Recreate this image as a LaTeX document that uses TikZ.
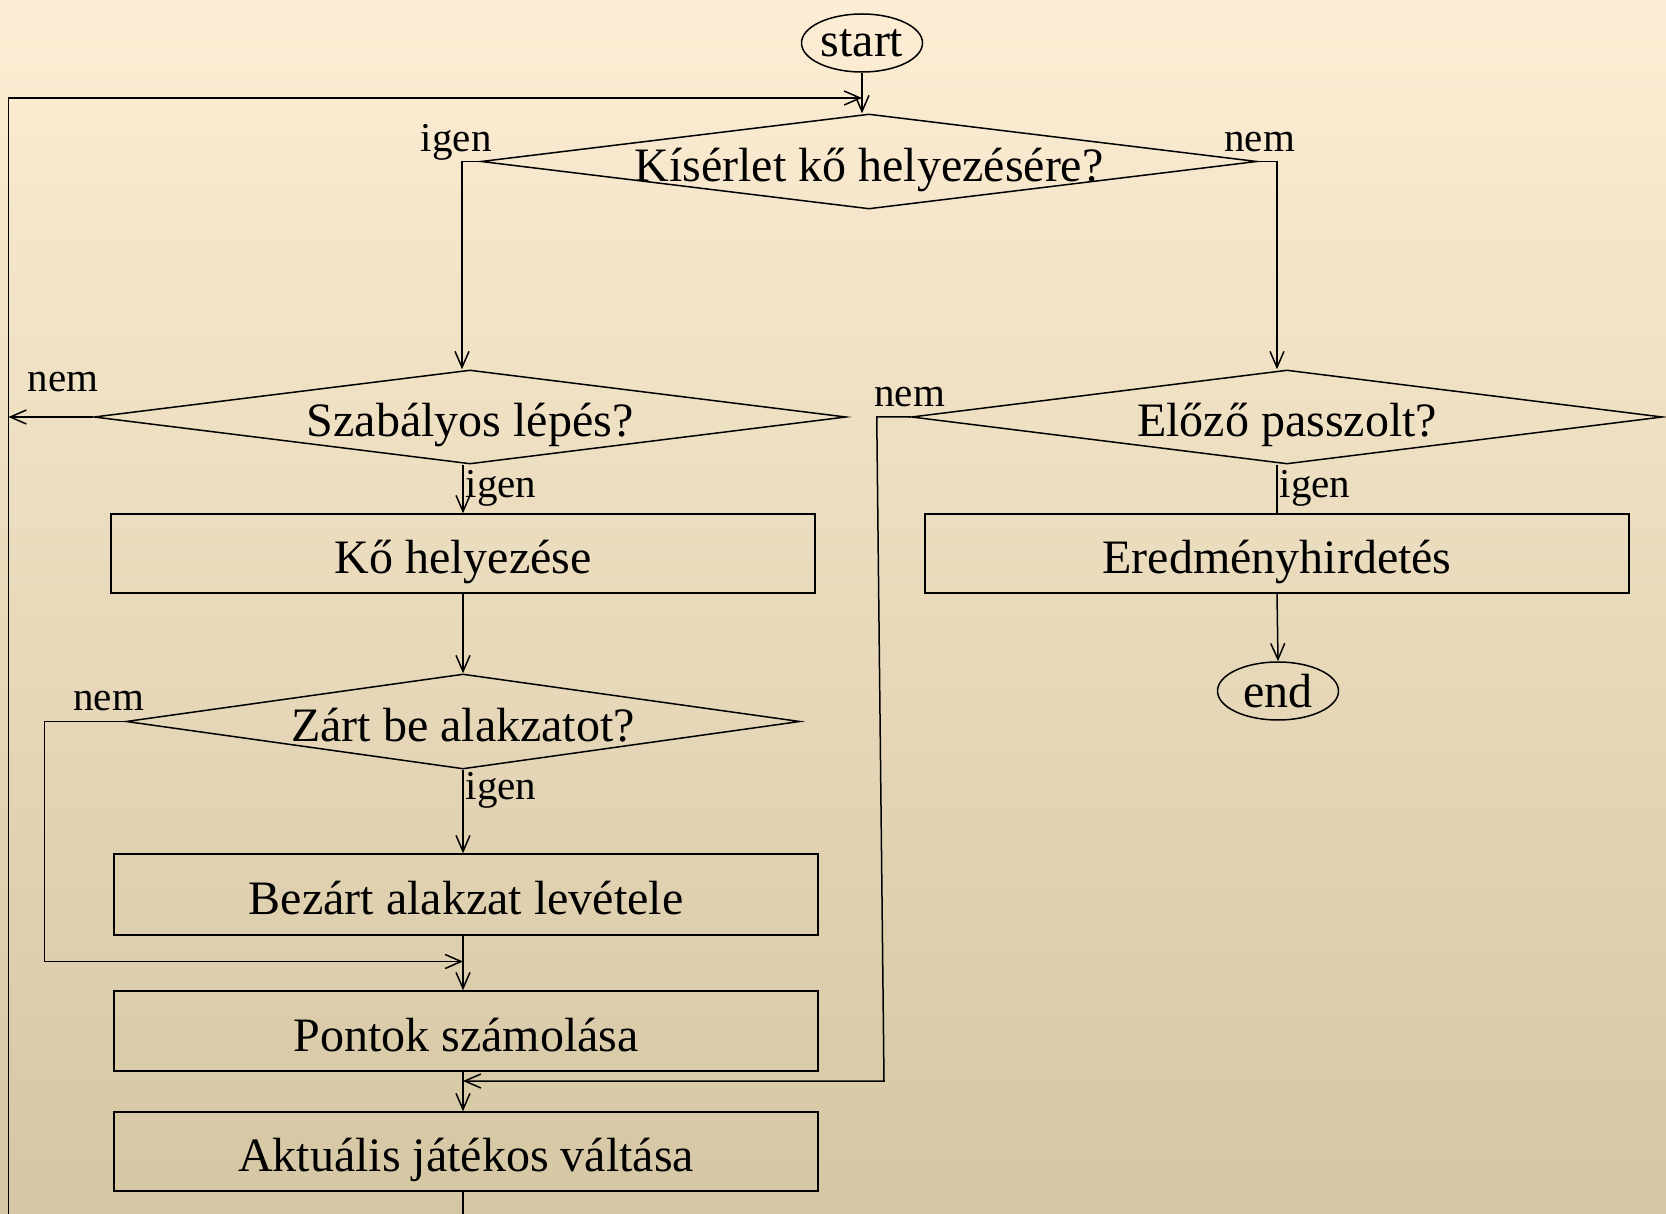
\documentclass[tikz,border=0pt]{standalone}
\usepackage{fontspec}
\setmainfont{Liberation Serif}
\usetikzlibrary{shapes,arrows.meta,positioning}
\definecolor{bgtop}{HTML}{FCEDD4}
\definecolor{bgmid}{HTML}{F1E8D0}
\definecolor{bgbot}{HTML}{D5C7A3}

\begin{document}
\begin{tikzpicture}[x=1pt,y=-1pt,line width=1.5pt,
  font=\fontsize{48}{56}\selectfont,
  arr/.style={-{Straight Barb[length=16pt,width=14pt]}},
  lift/.style={text height=46pt,text depth=6pt},
  term/.style={ellipse,draw,minimum width=121pt,minimum height=58pt,inner sep=0pt},
  decision/.style={diamond,draw,inner sep=0pt},
  stepbox/.style={rectangle,draw,minimum width=704pt,minimum height=79pt,inner sep=0pt,lift},
  lbl/.style={font=\fontsize{41}{48}\selectfont,inner sep=2pt,text height=36pt,text depth=9pt}]
  \clip (0,0) rectangle (1666,1214);
  \shade[top color=bgtop,middle color=bgmid,bottom color=bgbot] (0,0) rectangle (1666,1214);

  % left column
  \node[term] (start) at (862,43) {start};
  \node[decision,minimum width=776pt,minimum height=95pt,label={[lift]center:Kísérlet kő helyezésére?}] (d1) at (869,161.5) {};
  \node[decision,minimum width=752pt,minimum height=94pt,label={[lift]center:Szabályos lépés?}] (d2) at (470,417) {};
  \node[stepbox] (b1) at (463,553.5) {Kő helyezése};
  \node[decision,minimum width=674pt,minimum height=95pt,label={[lift]center:Zárt be alakzatot?}] (d3) at (463,721.5) {};
  \node[stepbox,minimum height=81pt] (b2) at (466,894.5) {Bezárt alakzat levétele};
  \node[stepbox,minimum height=80pt] (b3) at (466,1031) {Pontok számolása};
  \node[stepbox] (b4) at (466,1151.5) {Aktuális játékos váltása};
  % right column
  \node[decision,minimum width=751pt,minimum height=94pt,label={[lift]center:Előző passzolt?}] (d4) at (1287,417) {};
  \node[stepbox] (b5) at (1277,553.5) {Eredményhirdetés};
  \node[term] (end) at (1278,691) {end};

  \coordinate (loop) at (862,98);
  \coordinate (lx) at (8.5,1250);
  \coordinate (j1) at (463,961.5);
  \coordinate (j2) at (463,1081);

  % branch labels
  \node[lbl] (igen1) at ([shift={(-24,-23.5)}]d1.west) {igen};
  \node[lbl] (nem1) at ([shift={(2,-23.5)}]d1.east) {nem};
  \node[lbl] (nem2) at ([shift={(-30,-39)}]d2.west) {nem};
  \node[lbl] (nem3) at ([shift={(-16.5,-24.5)}]d3.west) {nem};
  \node[lbl] (nem4) at ([shift={(-1,-23.5)}]d4.west) {nem};

  \draw[arr] (start.south) -- (start.south |- d1.north);
  \draw[arr] (d1.west) -| ([xshift=-8pt]d2.north);
  \draw[arr] (d1.east) -| ([xshift=-10pt]d4.north);
  \draw[arr] (d2.west) -- (d2.west -| lx);
  \draw[arr] (d2.south -| b1.north) -- (b1.north) node[lbl,pos=0.4,right] {igen};
  \draw[arr] (b1.south) -- (d3.north);
  \draw[arr] (d3.south) -- (d3.south |- b2.north) node[lbl,pos=0.2,right] {igen};
  \draw[arr] (d3.west) -- ++(-81,0) |- (j1);
  \draw[arr] (b2.south -| j1) -- (b3.north -| j1);
  \draw[arr] (b3.south -| j2) -- (b4.north -| j2);
  \draw[arr] (d4.west) -- ++(-34,0) -- ([xshift=421pt]j2) -- (j2);
  \draw (d4.south -| b5.north) -- (b5.north) node[lbl,pos=0.4,right] {igen};
  \draw[arr] (b5.south) -- (end.north);
  \draw[arr] (b4.south -| j2) |- (lx) |- (loop);
\end{tikzpicture}
\end{document}
